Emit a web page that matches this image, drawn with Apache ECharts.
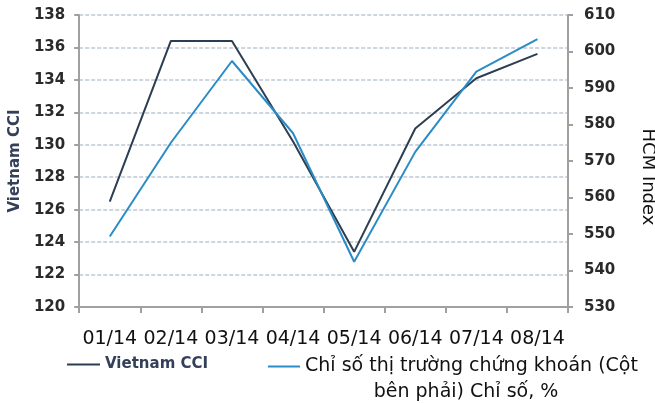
<!DOCTYPE html>
<html>
<head>
<meta charset="utf-8">
<script src="https://cdn.jsdelivr.net/npm/echarts@6/dist/echarts.min.js"></script>
<style>
html, body { margin: 0; padding: 0; background: #fff; }
#chart { width: 655px; height: 403px; }
</style>
</head>
<body>
<div id="chart"></div>
<script>
// data
var months = ['01/14', '02/14', '03/14', '04/14', '05/14', '06/14', '07/14', '08/14'];
var cciValues = [126.5, 136.4, 136.4, 130.2, 123.4, 131.0, 134.1, 135.6];
var hcmValues = [549.3, 575.0, 597.4, 577.6, 542.4, 572.5, 594.5, 603.4];
var cciName = 'Vietnam CCI';
var hcmName = 'Chỉ số thị trường chứng khoán (Cột bên phải) Chỉ số, %';

var chart = echarts.init(document.getElementById('chart'));

var tickFont = {
	fontFamily : 'DejaVu Sans',
	fontSize : 15,
	fontWeight : 'bold',
	color : '#2a2a2a'
};

function $extend(a, b) {
	var o = {};
	for (var k in b) o[k] = b[k];
	for (var k in a) o[k] = a[k];
	return o;
}

var option = {
	backgroundColor : '#fff',
	animation : false,
	grid : {
		left : 77,
		right : 87,
		top : 15,
		bottom : 96
	},
	legend : [{
		left : 62,
		top : 352,
		itemWidth : 33,
		itemHeight : 14,
		icon : 'path://M0,6L32,6L32,8L0,8Z',
		data : [cciName],
		textStyle : {
			fontFamily : 'DejaVu Sans',
			fontSize : 15,
			fontWeight : 'bold',
			color : '#34405a'
		}
	}, {
		left : 263,
		top : 352,
		itemWidth : 32,
		itemHeight : 14,
		itemGap : 0,
		icon : 'path://M0,6L32,6L32,8L0,8Z',
		data : [hcmName],
		formatter : function () {
			return 'Chỉ số thị trường chứng khoán (Cột';
		},
		textStyle : {
			fontFamily : 'DejaVu Sans',
			fontSize : 19,
			color : '#111',
			padding : [16, 0, 0, 0]
		}
	}],
	graphic : [{
		type : 'text',
		x : 466,
		y : 392,
		style : {
			text : 'bên phải) Chỉ số, %',
			fontFamily : 'DejaVu Sans',
			fontSize : 19,
			fill : '#111',
			align : 'center',
			verticalAlign : 'middle'
		}
	}, {
		type : 'text',
		x : 648,
		y : 177,
		rotation : -Math.PI / 2,
		style : {
			text : 'HCM Index',
			fontFamily : 'DejaVu Sans',
			fontSize : 18,
			fill : '#111',
			align : 'center',
			verticalAlign : 'middle'
		}
	}],
	xAxis : {
		type : 'category',
		data : months,
		boundaryGap : true,
		axisLine : { lineStyle : { color : '#a0a0a0', width : 2 } },
		axisTick : { show : true, length : 6, lineStyle : { color : '#a0a0a0', width : 2 } },
		axisLabel : {
			interval : 0,
			margin : 23,
			fontFamily : 'DejaVu Sans',
			fontSize : 19,
			color : '#111'
		},
		splitLine : { show : false }
	},
	yAxis : [{
		type : 'value',
		min : 120,
		max : 138,
		interval : 2,
		name : 'Vietnam CCI',
		nameLocation : 'middle',
		nameGap : 55,
		nameTextStyle : {
			fontFamily : 'DejaVu Sans',
			fontSize : 15,
			fontWeight : 'bold',
			color : '#34405a'
		},
		axisLine : { show : true, lineStyle : { color : '#a0a0a0', width : 2 } },
		axisTick : { show : true, length : 5, lineStyle : { color : '#a0a0a0', width : 2 } },
		axisLabel : $extend({ margin : 14 }, tickFont),
		splitLine : { lineStyle : { color : '#cdd6de', type : [4, 2], width : 2 } }
	}, {
		type : 'value',
		position : 'right',
		min : 530,
		max : 610,
		interval : 10,
		axisLine : { show : true, lineStyle : { color : '#a0a0a0', width : 2 } },
		axisTick : { show : true, length : 5, lineStyle : { color : '#a0a0a0', width : 2 } },
		axisLabel : $extend({ margin : 16 }, tickFont),
		splitLine : { show : false }
	}],
	series : [{
		name : cciName,
		type : 'line',
		yAxisIndex : 0,
		data : cciValues,
		showSymbol : false,
		symbol : 'none',
		color : '#2c3e52',
		lineStyle : { width : 2, color : '#2c3e52' }
	}, {
		name : hcmName,
		type : 'line',
		yAxisIndex : 1,
		data : hcmValues,
		showSymbol : false,
		symbol : 'none',
		color : '#2a8cc4',
		lineStyle : { width : 2, color : '#2a8cc4' }
	}]
};

chart.setOption(option);
</script>
</body>
</html>
